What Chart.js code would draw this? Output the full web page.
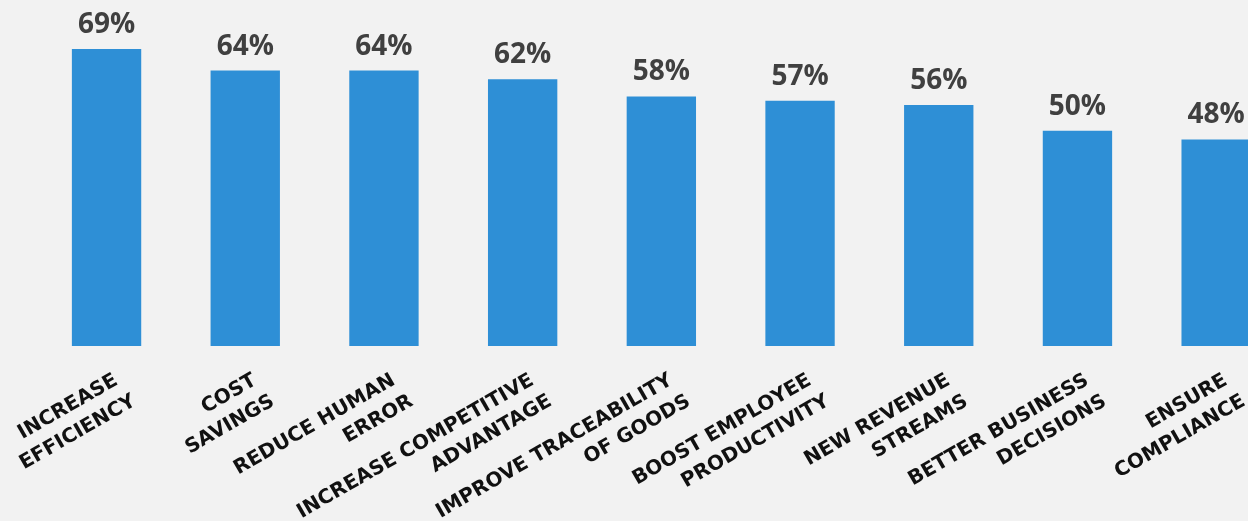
<!DOCTYPE html>
<html>
<head>
<meta charset="utf-8">
<script src="https://cdn.jsdelivr.net/npm/chart.js@4"></script>
<style>
    html, body { margin: 0; padding: 0; background: #f2f2f2; overflow: hidden; }
    #wrap { position: relative; width: 1290px; height: 521px; }
</style>
</head>
<body>
<div id="wrap"><canvas id="myChart"></canvas></div>
<script>
// catégories (une ligne par élément de tableau)
const categories = [
    ["INCREASE", "EFFICIENCY"],
    ["COST", "SAVINGS"],
    ["REDUCE HUMAN", "ERROR"],
    ["INCREASE COMPETITIVE", "ADVANTAGE"],
    ["IMPROVE TRACEABILITY", "OF GOODS"],
    ["BOOST EMPLOYEE", "PRODUCTIVITY"],
    ["NEW REVENUE", "STREAMS"],
    ["BETTER BUSINESS", "DECISIONS"],
    ["ENSURE", "COMPLIANCE"]
];

// pourcentages
const values = [69, 64, 64, 62, 58, 57, 56, 50, 48];

const barColor = "#2e8fd6";
const valueColor = "#404040";
const labelColor = "#111111";

var canvas = document.getElementById("myChart");
var ctx = canvas.getContext('2d');


/**
 * dessine les pourcentages au-dessus des barres et les catégories inclinées
 */
const labelsPlugin = {
    id: 'labels',
    afterDatasetsDraw(chart) {
        const c = chart.ctx;
        const meta = chart.getDatasetMeta(0);
        const xScale = chart.scales.x;
        const bottom = chart.chartArea.bottom;

        c.save();
        // valeurs
        c.fillStyle = valueColor;
        c.font = "bold 28px 'Open Sans'";
        c.textAlign = "center";
        c.textBaseline = "alphabetic";
        meta.data.forEach((bar, i) => {
            c.fillText(values[i] + "%", bar.x, bar.y - 16);
        });

        // catégories, rotation de 30°
        const fs = 20;
        const capH = fs * 0.729;
        const lh = 27;      // interligne
        const shift = 5;    // décalage de la 2e ligne
        c.fillStyle = labelColor;
        c.font = "bold " + fs + "px 'DejaVu Sans'";
        c.textAlign = "right";
        categories.forEach((lines, i) => {
            const x = xScale.getPixelForValue(i) + 5;
            const y = bottom + 25;
            c.save();
            c.translate(x, y);
            c.rotate(-Math.PI / 6);
            lines.forEach((line, j) => {
                c.fillText(line, j * shift, capH + j * lh);
            });
            c.restore();
        });
        c.restore();
    }
};


/**
 * configuration du graphe
 */
function generate_graphe() {
    return {
        type: 'bar',
        data: {
            labels: categories.map(l => l.join(" ")),
            datasets: [{
                data: values,
                backgroundColor: barColor,
                borderWidth: 0,
                barPercentage: 0.5,
                categoryPercentage: 1.0
            }]
        },
        options: {
            responsive: false,
            animation: false,
            layout: {
                padding: { left: 37.2, right: 4.5, top: 1.7, bottom: 175 }
            },
            plugins: {
                legend: { display: false },
                tooltip: { enabled: false }
            },
            scales: {
                x: { display: false, offset: true },
                y: { display: false, min: 0, max: 80 }
            }
        },
        plugins: [labelsPlugin]
    };
}

canvas.width = 1290;
canvas.height = 521;
var myChart = new Chart(ctx, generate_graphe());
</script>
</body>
</html>
